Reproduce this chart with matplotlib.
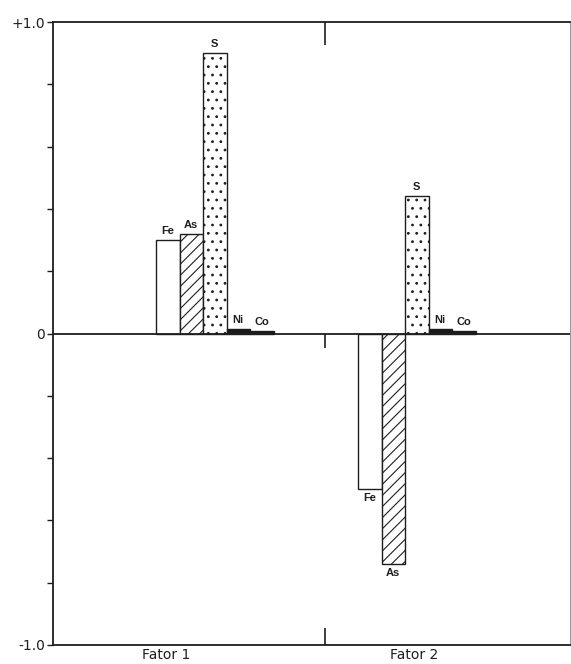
import matplotlib
matplotlib.use("Agg")
import matplotlib.pyplot as plt

# Factor loadings of each element on the two factors
elements = ["Fe", "As", "S", "Ni", "Co"]
fator1 = [0.30, 0.32, 0.90, 0.015, 0.008]
fator2 = [-0.50, -0.74, 0.44, 0.015, 0.008]
factor_labels = ["Fator 1", "Fator 2"]
ytick_labels = ["-1.0", "0", "+1.0"]

# Bar styling per element
faces = ["white", "white", "white", "#1a1a1a", "#1a1a1a"]
hatches = [None, "///", "..", None, None]

# Layout (x in hundreds of pixels across the frame)
group_starts = [1.03, 3.05]
label_pos = [1.13, 3.61]
divider_x = 2.72
bar_w = 0.235
ink = "#1e1e1e"

plt.rcParams["hatch.linewidth"] = 0.8
plt.rcParams["hatch.color"] = ink

fig = plt.figure(figsize=(5.71, 6.64), dpi=100)
ax = fig.add_axes([53 / 571, 19 / 664, 517 / 571, 623 / 664])
ax.set_xlim(0, 5.17)
ax.set_ylim(-1, 1)

for start, values in zip(group_starts, [fator1, fator2]):
    for i, (name, v) in enumerate(zip(elements, values)):
        x = start + i * bar_w
        ax.bar(x, v, width=bar_w, align="edge", facecolor=faces[i],
               edgecolor=ink, linewidth=1.0, hatch=hatches[i], zorder=3)
        cx = x + bar_w / 2
        if v >= 0:
            ax.annotate(name, (cx, v), xytext=(0, 3), textcoords="offset points",
                        ha="center", va="bottom", fontsize=8, fontweight="bold",
                        family="Liberation Sans", color=ink)
        else:
            ax.annotate(name, (cx, v), xytext=(0, -3), textcoords="offset points",
                        ha="center", va="top", fontsize=8, fontweight="bold",
                        family="Liberation Sans", color=ink)

# Zero line and factor divider marks
ax.axhline(0, color=ink, linewidth=1.3, zorder=4)
ax.vlines(divider_x, 0.925, 1.0, color=ink, linewidth=1.2, zorder=4)
ax.vlines(divider_x, -0.045, 0.0, color=ink, linewidth=1.2, zorder=4)
ax.vlines(divider_x, -1.0, -0.945, color=ink, linewidth=1.2, zorder=4)

# Spines
for side in ["left", "top", "bottom"]:
    ax.spines[side].set_color(ink)
    ax.spines[side].set_linewidth(1.3)
ax.spines["right"].set_color("#9a9a9a")
ax.spines["right"].set_linewidth(0.8)

# Y axis: ticks every 0.2, labels at -1, 0, +1
ax.set_yticks([-1.0, 0.0, 1.0])
ax.set_yticklabels(ytick_labels, fontsize=10, color=ink, family="DejaVu Sans")
ax.set_yticks([-0.8, -0.6, -0.4, -0.2, 0.2, 0.4, 0.6, 0.8], minor=True)
ax.tick_params(axis="y", which="both", direction="out", length=4.5,
               width=1.0, color=ink, pad=1)

# X axis: factor names below the frame
ax.set_xticks(label_pos)
ax.set_xticklabels(factor_labels, fontsize=10, color=ink, family="DejaVu Sans")
ax.tick_params(axis="x", length=0, pad=2)

fig.savefig("out.png", dpi=100, facecolor="white")
